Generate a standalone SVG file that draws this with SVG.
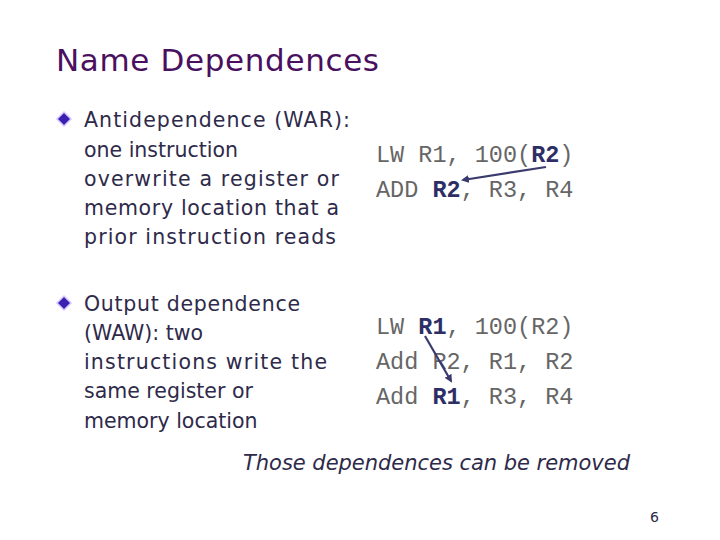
<svg xmlns="http://www.w3.org/2000/svg" width="720" height="540" viewBox="0 0 720 540">
<defs>
<style>
.t{font-family:"DejaVu Sans",sans-serif;font-size:20.5px;fill:#2e2a4a}
.c{font-family:"Liberation Mono",monospace;font-size:23.5px;fill:#666}
.b{font-weight:bold;fill:#2e2e66}
.ar{stroke:#3a3a6e;stroke-width:2.2;fill:none;marker-end:url(#ah)}
</style>
<marker id="ah" markerWidth="8" markerHeight="8" refX="6" refY="4" orient="auto" markerUnits="userSpaceOnUse"><path d="M0,0 L8,4 L0,8 z" fill="#3a3a6e"/></marker>
<g id="dia"><path d="M0,-7 L7,0 L0,7 L-7,0 z" fill="#3a1fb0" stroke="#d8c8ff" stroke-width="1.5"/></g>
</defs>
<rect width="720" height="540" fill="#fff"/>
<text x="56" y="71" font-family="DejaVu Sans, sans-serif" font-size="31" fill="#4a1060" textLength="323">Name Dependences</text>
<use href="#dia" x="64" y="119"/>
<text class="t"><tspan x="84" y="127" textLength="266">Antidependence (WAR):</tspan><tspan x="84" y="157">one instruction</tspan><tspan x="84" y="186" textLength="255">overwrite a register or</tspan><tspan x="84" y="215" textLength="255">memory location that a</tspan><tspan x="84" y="244" textLength="252">prior instruction reads</tspan></text>
<use href="#dia" x="64" y="303"/>
<text class="t"><tspan x="84" y="311" textLength="216">Output dependence</tspan><tspan x="84" y="340">(WAW): two</tspan><tspan x="84" y="369" textLength="243">instructions write the</tspan><tspan x="84" y="398">same register or</tspan><tspan x="84" y="428">memory location</tspan></text>
<text class="c" x="376" y="162">LW R1, 100(<tspan class="b">R2</tspan>)</text>
<text class="c" x="376" y="197">ADD <tspan class="b">R2</tspan>, R3, R4</text>
<text class="c" x="376" y="334">LW <tspan class="b">R1</tspan>, 100(R2)</text>
<text class="c" x="376" y="369">Add R2, R1, R2</text>
<text class="c" x="376" y="404">Add <tspan class="b">R1</tspan>, R3, R4</text>
<g id="connectors">
<line class="ar" x1="546" y1="167" x2="463" y2="180"/>
<line class="ar" x1="425" y1="336" x2="451" y2="381"/>
</g>
<text x="243" y="470" font-family="DejaVu Sans, sans-serif" font-style="italic" font-size="21" fill="#2e2a4a" textLength="387">Those dependences can be removed</text>
<text x="650" y="522" font-family="DejaVu Sans, sans-serif" font-size="14" fill="#2e2a4a">6</text>
</svg>
